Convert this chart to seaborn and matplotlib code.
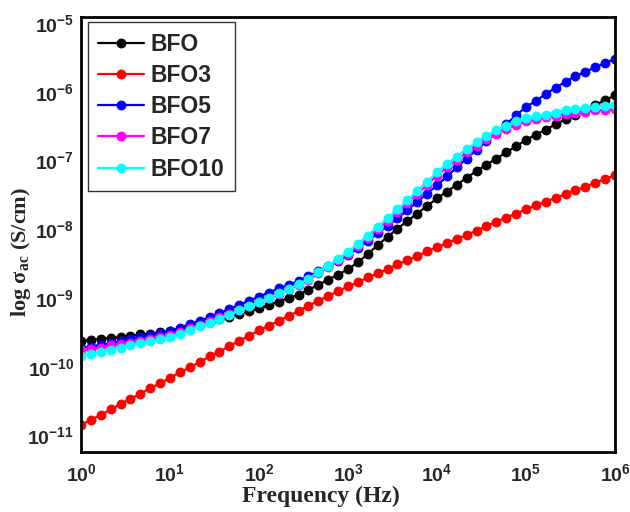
import numpy as np
import pandas as pd
import matplotlib
matplotlib.use("Agg")
import matplotlib.pyplot as plt
import seaborn as sns
from matplotlib.ticker import FixedLocator, FuncFormatter, NullLocator

# Frequency sweep: 1 Hz to 1 MHz, 9 points per decade
frequency_hz = np.logspace(0, 6, 55)

samples = ["BFO", "BFO3", "BFO5", "BFO7", "BFO10"]
colors = ["#000000", "#ff0000", "#0000ff", "#ff00ff", "#00ffff"]

# log10 of AC conductivity (S/cm) for each sample
log_sigma_bfo = [
    -9.62, -9.61, -9.59, -9.58, -9.57, -9.55, -9.53, -9.52, -9.50,
    -9.48, -9.45, -9.41, -9.38, -9.35, -9.31, -9.27, -9.23, -9.19,
    -9.15, -9.10, -9.05, -9.00, -8.95, -8.88, -8.81, -8.73, -8.66,
    -8.58, -8.48, -8.36, -8.23, -8.11, -7.99, -7.88, -7.77, -7.66,
    -7.55, -7.45, -7.35, -7.25, -7.15, -7.06, -6.97, -6.88, -6.79,
    -6.70, -6.62, -6.55, -6.47, -6.40, -6.33, -6.26, -6.19, -6.12,
    -6.05]
log_sigma_bfo3 = [
    -10.85, -10.77, -10.70, -10.62, -10.54, -10.47, -10.39, -10.31, -10.24,
    -10.16, -10.08, -10.01, -9.93, -9.85, -9.78, -9.70, -9.62, -9.55,
    -9.47, -9.40, -9.33, -9.26, -9.19, -9.11, -9.04, -8.97, -8.90,
    -8.83, -8.77, -8.70, -8.64, -8.58, -8.51, -8.45, -8.39, -8.32,
    -8.26, -8.20, -8.14, -8.08, -8.02, -7.95, -7.89, -7.83, -7.77,
    -7.71, -7.65, -7.60, -7.54, -7.49, -7.43, -7.38, -7.32, -7.27,
    -7.21]
log_sigma_bfo5 = [
    -9.73, -9.71, -9.68, -9.66, -9.63, -9.60, -9.57, -9.54, -9.51,
    -9.48, -9.43, -9.38, -9.33, -9.28, -9.22, -9.16, -9.10, -9.04,
    -8.98, -8.92, -8.86, -8.81, -8.75, -8.68, -8.61, -8.53, -8.46,
    -8.38, -8.27, -8.17, -8.06, -7.95, -7.84, -7.72, -7.60, -7.48,
    -7.36, -7.23, -7.10, -6.97, -6.84, -6.72, -6.59, -6.47, -6.34,
    -6.22, -6.13, -6.03, -5.94, -5.85, -5.77, -5.71, -5.64, -5.58,
    -5.52]
log_sigma_bfo7 = [
    -9.76, -9.74, -9.72, -9.69, -9.67, -9.65, -9.62, -9.59, -9.57,
    -9.54, -9.49, -9.44, -9.39, -9.34, -9.28, -9.23, -9.17, -9.12,
    -9.06, -9.00, -8.94, -8.87, -8.81, -8.73, -8.64, -8.55, -8.45,
    -8.36, -8.24, -8.12, -8.00, -7.88, -7.75, -7.62, -7.49, -7.35,
    -7.22, -7.10, -6.99, -6.88, -6.78, -6.69, -6.61, -6.54, -6.48,
    -6.43, -6.40, -6.37, -6.35, -6.32, -6.30, -6.29, -6.27, -6.26,
    -6.25]
log_sigma_bfo10 = [
    -9.84, -9.81, -9.78, -9.75, -9.72, -9.69, -9.66, -9.63, -9.60,
    -9.57, -9.52, -9.46, -9.41, -9.36, -9.30, -9.24, -9.18, -9.12,
    -9.06, -9.00, -8.93, -8.87, -8.80, -8.72, -8.62, -8.53, -8.43,
    -8.33, -8.21, -8.09, -7.96, -7.84, -7.71, -7.58, -7.44, -7.31,
    -7.17, -7.05, -6.94, -6.83, -6.73, -6.64, -6.56, -6.49, -6.43,
    -6.38, -6.35, -6.33, -6.30, -6.27, -6.25, -6.23, -6.22, -6.20,
    -6.19]

x_ticks = [1e0, 1e1, 1e2, 1e3, 1e4, 1e5, 1e6]
y_ticks = [1e-11, 1e-10, 1e-9, 1e-8, 1e-7, 1e-6, 1e-5]

series = [log_sigma_bfo, log_sigma_bfo3, log_sigma_bfo5, log_sigma_bfo7, log_sigma_bfo10]
frames = []
for name, vals in zip(samples, series):
    frames.append(pd.DataFrame({
        "Frequency": frequency_hz,
        "sigma": 10.0 ** np.asarray(vals),
        "Sample": name,
    }))
df = pd.concat(frames, ignore_index=True)

sns.set_style("white")
plt.rcParams["font.family"] = ["Liberation Sans", "DejaVu Sans"]
plt.rcParams["mathtext.default"] = "regular"

fig = plt.figure(figsize=(6.3, 5.12), dpi=100)
ax = fig.add_axes([81 / 630, 1 - 452 / 512, (615 - 81) / 630, (452 - 17) / 512])

sns.lineplot(
    data=df, x="Frequency", y="sigma", hue="Sample",
    hue_order=samples, palette=colors, marker="o", markersize=6.3,
    markeredgewidth=0.8, linewidth=1.6, sort=False, estimator=None,
    ax=ax, legend=True,
)
for ln in ax.lines:
    ln.set_markeredgecolor(ln.get_color())

# light highlight on each bead
sns.scatterplot(
    data=df, x="Frequency", y="sigma", color="white", s=4,
    alpha=0.5, linewidth=0, ax=ax, legend=False,
)

ax.set_xscale("log")
ax.set_yscale("log")
ax.set_xlim(1, 1e6)
ax.set_ylim(10 ** -11.24, 10 ** -4.91)

fmt = FuncFormatter(lambda v, p: "$10^{%d}$" % int(round(np.log10(v))))
ax.xaxis.set_major_locator(FixedLocator(x_ticks))
ax.yaxis.set_major_locator(FixedLocator(y_ticks))
ax.xaxis.set_minor_locator(NullLocator())
ax.yaxis.set_minor_locator(NullLocator())
ax.xaxis.set_major_formatter(fmt)
ax.yaxis.set_major_formatter(fmt)
ax.tick_params(axis="both", length=0, labelsize=14)
ax.tick_params(axis="x", pad=8)
ax.tick_params(axis="y", pad=5)
for lab in ax.get_xticklabels() + ax.get_yticklabels():
    lab.set_fontweight("bold")

for sp in ax.spines.values():
    sp.set_visible(True)
    sp.set_color("black")
    sp.set_linewidth(2.0)

serif = ["Liberation Serif", "DejaVu Serif"]
ax.set_xlabel("Frequency (Hz)", fontsize=17, fontweight="bold", family=serif)
ax.xaxis.set_label_coords(0.449, -0.078)
ax.set_ylabel(r"log $\sigma_{ac}$ (S/cm)", fontsize=16, fontweight="bold", family=serif)
ax.yaxis.set_label_coords(-0.09, 0.46)

handles, labels = ax.get_legend_handles_labels()
for h in handles:
    h.set_markeredgecolor(h.get_color())
leg = ax.legend(
    handles=handles[:5], labels=labels[:5], loc="upper left",
    bbox_to_anchor=(0.013, 0.988), borderaxespad=0, frameon=True,
    fancybox=False, edgecolor="#333333", framealpha=1, handlelength=2.0,
    handletextpad=0.3, labelspacing=0.36, borderpad=0.45,
    prop={"family": ["Liberation Sans", "DejaVu Sans"], "weight": "bold", "size": 16.5},
)
leg.get_frame().set_linewidth(1.0)

fig.savefig("out.png", dpi=100)
